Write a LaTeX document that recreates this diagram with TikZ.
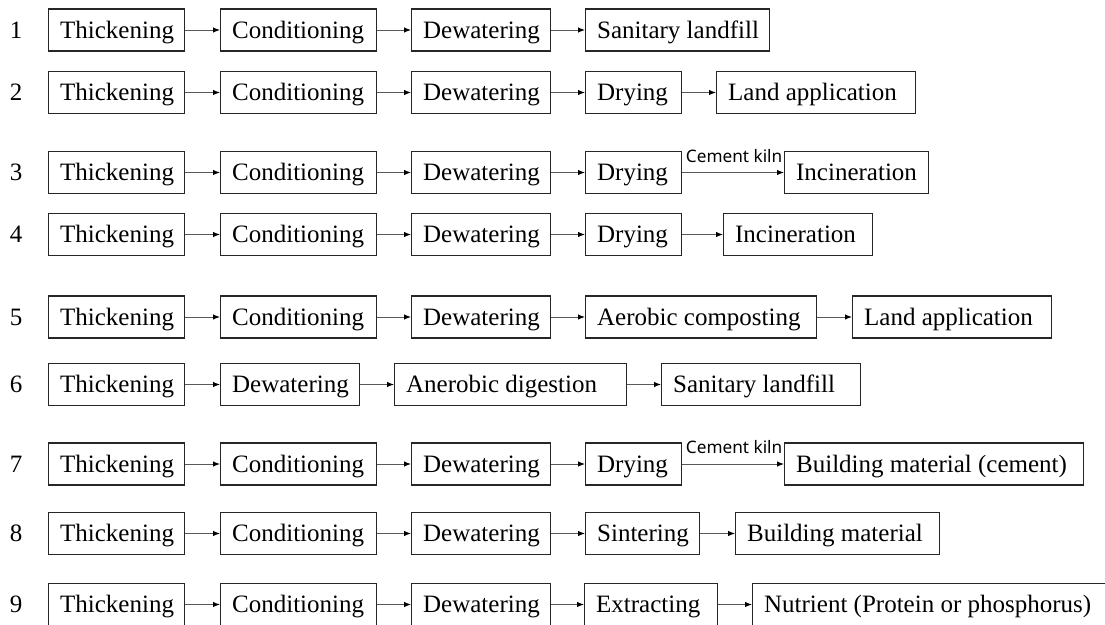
\documentclass[tikz,border=0pt]{standalone}
\usepackage{fontspec}
\setmainfont{Liberation Serif}
\newfontfamily\kilnfont{Noto Sans}
\usetikzlibrary{arrows.meta}

% \stage{name}{left x}{centre y}{box width}{text}
\newcommand\stage[5]{%
  \node[stepbox] (#1) at (#2,#3) {\makebox[\dimexpr #4pt-23pt\relax][l]{#5}};}

\begin{document}
\begin{tikzpicture}[x=1pt,y=-1pt,
  stepbox/.style={draw=black!85, line width=1.3pt, rectangle, anchor=west,
    minimum height=42pt, inner xsep=11.5pt, inner ysep=0pt,
    text height=16.6pt, text depth=0pt, font=\fontsize{25}{30}\selectfont},
  rownum/.style={font=\fontsize{25}{30}\selectfont, text height=16.6pt,
    text depth=0pt, inner sep=0pt},
  flow/.style={draw=black!65, line width=1pt,
    -{Latex[length=7pt,width=5.5pt,black]}},
  kiln/.style={font=\kilnfont\fontsize{17.2}{19}\selectfont, inner sep=0pt,
    anchor=base east}
]
\useasboundingbox (0,0) rectangle (1105,624);
\clip (0,0) rectangle (1105,624);

% rows that start Thickening -> Conditioning -> Dewatering
\foreach \r/\y in {1/30,2/92.5,3/172.5,4/234.5,5/317,7/464,8/533.5,9/604.5}{
  \node[rownum] (n\r) at (16,\y) {\r};
  \stage{t\r}{48}{\y}{136}{Thickening}
  \stage{c\r}{220}{\y}{156}{Conditioning}
  \stage{d\r}{411}{\y}{139}{Dewatering}
  \draw[flow] (t\r.east) -- (c\r.west);
  \draw[flow] (c\r.east) -- (d\r.west);
}

% row 1
\stage{s1}{585}{30}{184}{Sanitary landfill}
\draw[flow] (d1.east) -- (s1.west);

% row 2
\stage{y2}{585}{92.5}{96}{Drying}
\stage{l2}{716}{92.5}{199}{Land application}
\draw[flow] (d2.east) -- (y2.west);
\draw[flow] (y2.east) -- (l2.west);

% row 3
\stage{y3}{585}{172.5}{96}{Drying}
\stage{i3}{784}{172.5}{144}{Incineration}
\draw[flow] (d3.east) -- (y3.west);
\draw[flow] (y3.east) -- (i3.west);
\node[kiln] (k3) at ([xshift=-1.5pt,yshift=10pt]i3.west) {Cement kiln};

% row 4
\stage{y4}{585}{234.5}{96}{Drying}
\stage{i4}{723}{234.5}{149}{Incineration}
\draw[flow] (d4.east) -- (y4.west);
\draw[flow] (y4.east) -- (i4.west);

% row 5
\stage{a5}{585}{317}{231}{Aerobic composting}
\stage{l5}{852}{317}{199}{Land application}
\draw[flow] (d5.east) -- (a5.west);
\draw[flow] (a5.east) -- (l5.west);

% row 6
\node[rownum] (n6) at (16,384.5) {6};
\stage{t6}{48}{384.5}{136}{Thickening}
\stage{d6}{220}{384.5}{139}{Dewatering}
\stage{a6}{394}{384.5}{232}{Anerobic digestion}
\stage{s6}{661}{384.5}{199}{Sanitary landfill}
\draw[flow] (t6.east) -- (d6.west);
\draw[flow] (d6.east) -- (a6.west);
\draw[flow] (a6.east) -- (s6.west);

% row 7
\stage{y7}{585}{464}{96}{Drying}
\stage{b7}{784}{464}{299}{Building material (cement)}
\draw[flow] (d7.east) -- (y7.west);
\draw[flow] (y7.east) -- (b7.west);
\node[kiln] (k7) at ([xshift=-1.5pt,yshift=11pt]b7.west) {Cement kiln};

% row 8
\stage{s8}{585}{533.5}{114}{Sintering}
\stage{b8}{735}{533.5}{204}{Building material}
\draw[flow] (d8.east) -- (s8.west);
\draw[flow] (s8.east) -- (b8.west);

% row 9
\stage{e9}{584}{604.5}{133}{Extracting}
\stage{p9}{752}{604.5}{370}{Nutrient (Protein or phosphorus)}
\draw[flow] (d9.east) -- (e9.west);
\draw[flow] (e9.east) -- (p9.west);
\end{tikzpicture}
\end{document}
